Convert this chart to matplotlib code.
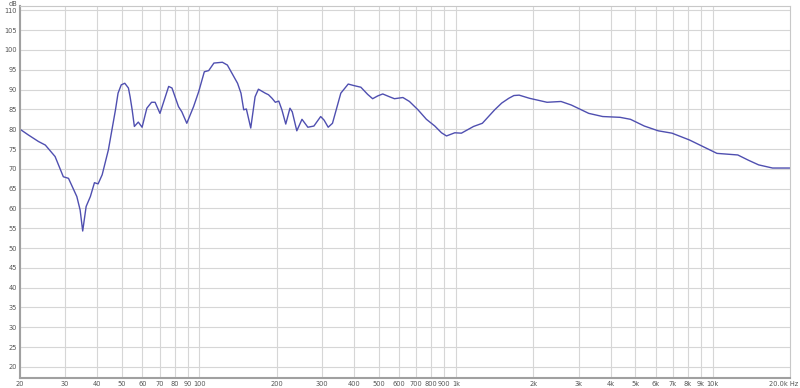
import matplotlib
matplotlib.use("Agg")
import matplotlib.pyplot as plt
import numpy as np

# frequency response (Hz, dB)
freq = [20, 21.5, 23.6, 25.1, 27.4, 29.5, 30.9, 33.3, 34.3, 35.1, 36.2, 37.6,
        39.0, 40.3, 41.8, 44.2, 47.1, 48.2, 49.6, 51.2, 52.9, 53.7, 54.7, 55.8,
        57.8, 59.8, 62.4, 65.1, 67.2, 70.2, 75.9, 78.2, 82.9, 85.4, 89.3, 94.9,
        99.4, 104.5, 108.7, 113.9, 122.9, 128.5, 140.8, 145.2, 148.8, 152.4,
        158.5, 164.8, 169.8, 180.5, 185.9, 191.9, 197.6, 203.8, 209.6, 217,
        225.3, 230, 239.6, 251, 264.6, 279.3, 296.8, 306, 317.5, 330, 355.6,
        380, 400.7, 425.7, 452.3, 473.1, 495, 518, 549.9, 575.3, 620.7, 658.2,
        710.6, 766.3, 826.4, 877.4, 917.6, 988.6, 1048.9, 1170, 1266, 1414,
        1506, 1604, 1680, 1761, 1934, 2262, 2564, 2813, 3288, 3727, 4355, 4780,
        5413, 6130, 6939, 8104, 9175, 10388, 11405, 12520, 13745, 15089, 17100,
        20000]
level = [80.0, 78.6, 76.9, 76.0, 73.1, 68.0, 67.6, 63.0, 59.6, 54.3, 60.5, 63.0,
         66.5, 66.2, 68.5, 74.8, 84.9, 89.1, 91.2, 91.6, 90.4, 88.2, 84.9, 80.7,
         81.8, 80.5, 85.3, 86.8, 86.8, 84.0, 90.8, 90.4, 85.7, 84.4, 81.5, 85.7,
         89.5, 94.5, 94.8, 96.7, 96.9, 96.2, 91.6, 89.1, 84.9, 85.1,
         80.3, 88.2, 90.1, 89.1, 88.7, 87.8, 86.8, 87.1, 84.9, 81.3,
         85.3, 84.4, 79.6, 82.5, 80.5, 80.8, 83.2, 82.3, 80.5, 81.5, 89.1,
         91.4, 91.0, 90.6, 88.8, 87.7, 88.4, 88.9, 88.2, 87.7, 88.0, 87.0,
         84.9, 82.5, 80.8, 79.1, 78.3, 79.1, 79.0, 80.7, 81.5, 84.9,
         86.6, 87.8, 88.5, 88.6, 87.8, 86.8, 87.0, 86.1, 84.0, 83.2, 83.0, 82.5,
         80.8, 79.6, 79.0, 77.3, 75.6, 73.9, 73.7, 73.5, 72.2, 71.0, 70.2,
         70.2]

xticks = [20, 30, 40, 50, 60, 70, 80, 90, 100, 200, 300, 400, 500, 600, 700,
          800, 900, 1000, 2000, 3000, 4000, 5000, 6000, 7000, 8000, 9000,
          10000, 20000]
xlabels = ["20", "30", "40", "50", "60", "70", "80", "90", "100", "200", "300",
           "400", "500", "600", "700", "800", "900", "1k", "2k", "3k", "4k",
           "5k", "6k", "7k", "8k", "9k", "10k", ""]
yticks = list(range(20, 111, 5))

fig = plt.figure(figsize=(8, 3.88), dpi=100)
ax = fig.add_axes([0.025, 0.0258, 0.9625, 0.9587])

ax.plot(freq, level, color="#4f4fb0", lw=1.0, solid_joinstyle="round")

ax.set_xscale("log")
ax.set_xlim(20, 20000)
ax.set_ylim(17.2, 111.1)

ax.set_xticks(xticks)
ax.set_xticklabels(xlabels)
ax.xaxis.set_minor_locator(matplotlib.ticker.NullLocator())
ax.set_yticks(yticks)

# grid lines, none between 10k and 20k
for f in xticks[:-1]:
    ax.axvline(f, color="#d6d6d6", lw=0.8, zorder=0)
for y in yticks:
    ax.axhline(y, color="#d6d6d6", lw=0.8, zorder=0)

ax.tick_params(axis="both", length=0, labelsize=4.8, colors="#555555", pad=2)
for side in ["left", "bottom"]:
    ax.spines[side].set_color("#a0a0a0")
    ax.spines[side].set_linewidth(1.5)
for side in ["top", "right"]:
    ax.spines[side].set_color("#c8c8c8")
    ax.spines[side].set_linewidth(0.8)

fig.text(13 / 800, 1 - 3.5 / 388, "dB", fontsize=4.8, color="#555555",
         ha="center", va="center")
fig.text(798 / 800, 1 - 383.5 / 388, "20.0k Hz", fontsize=4.8,
         color="#555555", ha="right", va="center")

fig.savefig("out.png", dpi=100)
